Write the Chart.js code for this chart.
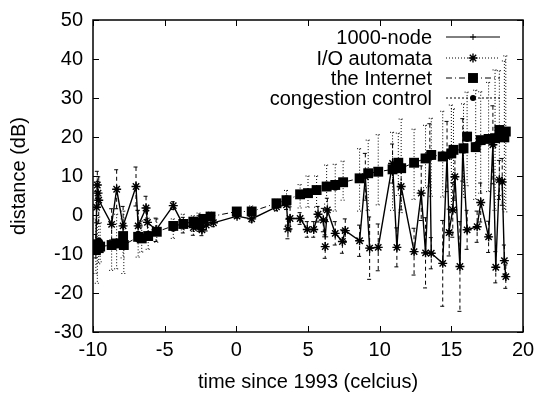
<!DOCTYPE html>
<html>
<head>
<meta charset="utf-8">
<script src="https://cdn.jsdelivr.net/npm/chart.js@4.4.1/dist/chart.umd.min.js"></script>
<style>
  html, body { margin: 0; padding: 0; background: #fff; }
</style>
</head>
<body>
<canvas id="grafico" width="541" height="394"></canvas>
<script>
// ticks dos eixos
const xTicks = [-10, -5, 0, 5, 10, 15, 20];
const yTicks = [-30, -20, -10, 0, 10, 20, 30, 40, 50];

// 1000-node (linha solida) e I/O automata (estrelas com barras tracejadas)
const nodeX = [-9.8, -9.75, -9.7, -9.65, -9.6, -8.7, -8.35, -7.9, -7.0, -6.85, -6.3, -6.2, -5.6, -4.4, -3.7, -3.0, -2.6, -2.4, -2.1, -1.6,
  0.05, 1.07, 2.8, 3.5, 3.6, 3.75, 4.45, 4.95, 5.4, 5.7, 6.07, 6.2, 6.35, 6.9, 7.4, 7.6, 8.6, 9.0, 9.3, 9.9,
  10.9, 11.2, 11.5, 12.4, 12.9, 13.2, 13.5, 13.6, 14.4, 14.7, 14.85, 15.1, 15.25, 15.6, 15.8, 16.1, 16.8, 17.05, 17.6, 17.9,
  18.1, 18.35, 18.55, 18.7, 18.8];
const nodeY = [-8.5, 2.0, 7.7, 5.6, 3.8, -2.4, 6.6, -2.8, 7.3, -2.8, 1.8, -1.9, -3.8, 2.4, -2.6, -3.2, -2.2, -3.8, -2.6, -2.0,
  -0.3, -1.0, 2.1, 2.6, -2.6, -0.9, -0.9, -3.7, -3.7, 0.2, -1.3, -5.6, 1.3, -4.7, -6.8, -4.0, -6.6, 9.8, -8.5, -8.3,
  13.2, -8.3, 7.3, -9.4, 5.6, -9.7, 15.4, -9.8, -12.4, 15.0, -4.0, 1.3, 9.8, -13.2, 16.7, -3.8, -3.0, 3.2, -5.6, 18.0,
  -13.4, 9.0, 8.5, -11.7, -15.8];
const automataY = [-8.0, 2.0, 7.7, 5.6, 3.8, -2.4, 6.6, -2.8, 7.3, -2.8, 1.8, -1.9, -3.8, 2.4, -2.6, -3.2, -2.2, -3.8, -2.6, -2.0,
  -0.3, -1.0, 2.1, 2.6, -3.6, -0.9, -0.9, -3.7, -3.7, 0.2, -1.3, -8.1, 1.3, -4.7, -6.8, -4.0, -6.6, 9.8, -8.5, -8.3,
  13.2, -8.3, 7.3, -9.4, 5.6, -9.7, 15.4, -9.8, -12.4, 15.0, -4.5, 1.3, 9.8, -13.2, 16.7, -3.8, -3.0, 3.2, -5.6, 18.0,
  -13.4, 9.0, 8.5, -11.7, -15.8];
const automataErr = [3, 4, 3.5, 3, 6, 4, 5, 5, 5, 4, 3, 3, 3, 1, 2, 2, 2, 1.5, 1.5, 1,
  0.5, 0.8, 1, 1.2, 2.5, 3, 1.5, 2, 2, 2, 3, 3, 3, 3, 3, 3, 4, 6, 8, 6,
  5, 5, 6, 6, 7, 9, 8, 4, 11, 9, 6, 7, 6, 11.5, 8, 5, 4, 5, 4, 10,
  4, 5, 6, 4, 3];

// the Internet (quadrados) e congestion control (circulos com barras pontilhadas)
const internetX = [-9.8, -9.7, -9.6, -9.5, -8.7, -8.35, -7.9, -7.85, -6.85, -6.6, -6.15, -5.55, -4.4, -3.7, -3.0, -2.6, -2.3, -1.8,
  0.03, 1.07, 2.8, 3.5, 4.45, 5.0, 5.6, 6.3, 6.9, 7.45, 8.6, 9.2, 9.9, 10.9, 11.3, 11.5, 12.4, 13.2, 13.6, 14.4,
  15.0, 15.15, 15.85, 16.1, 16.7, 17.05, 17.6, 18.05, 18.35, 18.7, 18.8];
const internetY = [-9.0, -7.5, -8.5, -8.1, -7.7, -7.3, -5.4, -7.7, -5.6, -6.0, -5.4, -4.3, -2.8, -2.3, -1.7, -2.5, -1.0, -0.4,
  0.9, 0.9, 3.0, 3.8, 5.3, 5.6, 6.4, 7.3, 7.7, 8.4, 9.4, 10.7, 11.1, 11.7, 13.4, 12.0, 13.4, 14.5, 15.4, 15.0,
  15.8, 16.7, 17.1, 20.1, 17.4, 19.2, 19.5, 19.7, 21.8, 19.9, 21.4];
const congestionY = [-8.0, -9.5, -6.5, -7.0, -8.2, -6.8, -6.0, -7.0, -4.8, -5.5, -4.8, -4.0, -3.5, -1.8, -2.2, -1.5, -1.6, -0.8,
  0.5, 1.3, 2.5, 4.3, 4.8, 6.0, 6.0, 7.8, 7.0, 8.8, 9.0, 10.2, 11.6, 11.2, 13.0, 12.6, 13.0, 15.0, 14.8, 15.6,
  15.2, 17.2, 16.5, 19.5, 18.0, 18.6, 20.0, 19.2, 21.0, 20.5, 20.8];
const congestionErr = [7, 8, 6, 5, 6, 7, 5, 8, 6, 4, 4, 3, 2.5, 2, 2, 2, 1.5, 1.5,
  1, 1, 1.5, 2, 3, 4, 4, 5, 6, 5, 8, 9, 9, 10, 8, 12, 9, 8, 10, 11,
  13, 10, 12, 12, 14, 13, 14, 18, 16, 19, 20];

const fonte = "'Liberation Sans', Arial, sans-serif";

function pontos(xs, ys) {
  return xs.map((x, i) => ({ x: x, y: ys[i] }));
}

// barras de erro desenhadas com as escalas do proprio chart
function desenharBarras(ctx, chart, xs, ys, errs, dash) {
  const sx = chart.scales.x;
  const sy = chart.scales.y;
  ctx.setLineDash(dash);
  xs.forEach((xv, i) => {
    const px = sx.getPixelForValue(xv);
    const yTopo = sy.getPixelForValue(ys[i] + errs[i]);
    const yBase = sy.getPixelForValue(ys[i] - errs[i]);
    ctx.beginPath();
    ctx.moveTo(px, yTopo);
    ctx.lineTo(px, yBase);
    ctx.moveTo(px - 2.5, yTopo);
    ctx.lineTo(px + 2.5, yTopo);
    ctx.moveTo(px - 2.5, yBase);
    ctx.lineTo(px + 2.5, yBase);
    ctx.stroke();
  });
  ctx.setLineDash([]);
}

const barrasPlugin = {
  id: 'barras',
  beforeDatasetsDraw(chart) {
    const ctx = chart.ctx;
    const a = chart.chartArea;
    ctx.save();
    ctx.beginPath();
    ctx.rect(a.left, a.top, a.right - a.left, a.bottom - a.top);
    ctx.clip();
    ctx.strokeStyle = '#000';
    ctx.lineWidth = 1;
    desenharBarras(ctx, chart, internetX, congestionY, congestionErr, [1, 2]);
    desenharBarras(ctx, chart, nodeX, automataY, automataErr, [4, 3]);
    ctx.restore();
  }
};

// moldura estilo gnuplot com ticks para dentro
const molduraPlugin = {
  id: 'moldura',
  afterDraw(chart) {
    const ctx = chart.ctx;
    const a = chart.chartArea;
    const sx = chart.scales.x;
    const sy = chart.scales.y;
    ctx.save();
    ctx.strokeStyle = '#000';
    ctx.lineWidth = 1.5;
    ctx.strokeRect(a.left, a.top, a.right - a.left, a.bottom - a.top);
    ctx.lineWidth = 1;
    ctx.beginPath();
    xTicks.forEach(v => {
      const px = Math.round(sx.getPixelForValue(v)) + 0.5;
      ctx.moveTo(px, a.bottom); ctx.lineTo(px, a.bottom - 6);
      ctx.moveTo(px, a.top); ctx.lineTo(px, a.top + 6);
    });
    yTicks.forEach(v => {
      const py = Math.round(sy.getPixelForValue(v)) + 0.5;
      ctx.moveTo(a.left, py); ctx.lineTo(a.left + 6, py);
      ctx.moveTo(a.right, py); ctx.lineTo(a.right - 6, py);
    });
    ctx.stroke();
    ctx.restore();
  }
};

// legenda no canto superior direito, texto a esquerda e amostra a direita
const legendaPlugin = {
  id: 'legenda',
  afterDraw(chart) {
    const ctx = chart.ctx;
    const linhas = [37, 58, 78, 98];
    ctx.save();
    ctx.font = '20px ' + fonte;
    ctx.fillStyle = '#000';
    ctx.strokeStyle = '#000';
    ctx.textAlign = 'right';
    ctx.textBaseline = 'middle';
    chart.data.datasets.forEach((ds, i) => {
      const y = linhas[i];
      ctx.fillText(ds.label, 432, y + 1);
      ctx.lineWidth = 1;
      ctx.setLineDash(ds.legendDash);
      ctx.beginPath();
      ctx.moveTo(446, y);
      ctx.lineTo(500, y);
      ctx.stroke();
      ctx.setLineDash([]);
      ctx.lineWidth = ds.pointBorderWidth;
      Chart.helpers.drawPoint(ctx, {
        pointStyle: ds.pointStyle, radius: ds.pointRadius, borderWidth: ds.pointBorderWidth, rotation: 0
      }, 473, y);
    });
    ctx.restore();
  }
};

new Chart(document.getElementById('grafico'), {
  type: 'scatter',
  data: {
    datasets: [
      {
        label: '1000-node',
        data: pontos(nodeX, nodeY),
        showLine: true,
        borderColor: '#000',
        backgroundColor: '#000',
        borderWidth: 1.4,
        pointStyle: 'cross',
        pointRadius: 3,
        pointBorderWidth: 1,
        legendDash: []
      },
      {
        label: 'I/O automata',
        data: pontos(nodeX, automataY),
        showLine: false,
        borderColor: '#000',
        backgroundColor: '#000',
        pointStyle: 'star',
        pointRadius: 4.5,
        pointBorderWidth: 1.4,
        legendDash: [1, 2]
      },
      {
        label: 'the Internet',
        data: pontos(internetX, internetY),
        showLine: true,
        borderColor: '#000',
        backgroundColor: '#000',
        borderWidth: 1,
        borderDash: [6, 3, 1, 3],
        pointStyle: 'rect',
        pointRadius: 7,
        pointBorderWidth: 0,
        legendDash: [6, 3, 1, 3]
      },
      {
        label: 'congestion control',
        data: pontos(internetX, congestionY),
        showLine: false,
        borderColor: '#000',
        backgroundColor: '#000',
        pointStyle: 'circle',
        pointRadius: 3,
        pointBorderWidth: 0,
        legendDash: [2, 2]
      }
    ]
  },
  options: {
    responsive: false,
    animation: false,
    layout: { padding: { top: 20, right: 18, left: 0, bottom: 0 } },
    plugins: {
      legend: { display: false },
      tooltip: { enabled: false }
    },
    scales: {
      x: {
        type: 'linear',
        min: -10,
        max: 20,
        afterBuildTicks: s => { s.ticks = xTicks.map(v => ({ value: v })); },
        ticks: { color: '#000', padding: 6, font: { family: fonte, size: 20 } },
        grid: { display: false, drawTicks: false },
        border: { display: false },
        title: { display: true, text: 'time since 1993 (celcius)', color: '#000', font: { family: fonte, size: 20 }, padding: 0 },
        afterFit: s => { s.height = 62; s.paddingLeft = 0; s.paddingRight = 0; }
      },
      y: {
        type: 'linear',
        min: -30,
        max: 50,
        afterBuildTicks: s => { s.ticks = yTicks.map(v => ({ value: v })); },
        ticks: { color: '#000', padding: 10, font: { family: fonte, size: 20 } },
        grid: { display: false, drawTicks: false },
        border: { display: false },
        title: { display: true, text: 'distance (dB)', color: '#000', font: { family: fonte, size: 20 }, padding: 7 },
        afterFit: s => { s.width = 93; s.paddingTop = 0; s.paddingBottom = 0; }
      }
    }
  },
  plugins: [barrasPlugin, molduraPlugin, legendaPlugin]
});
</script>
</body>
</html>
